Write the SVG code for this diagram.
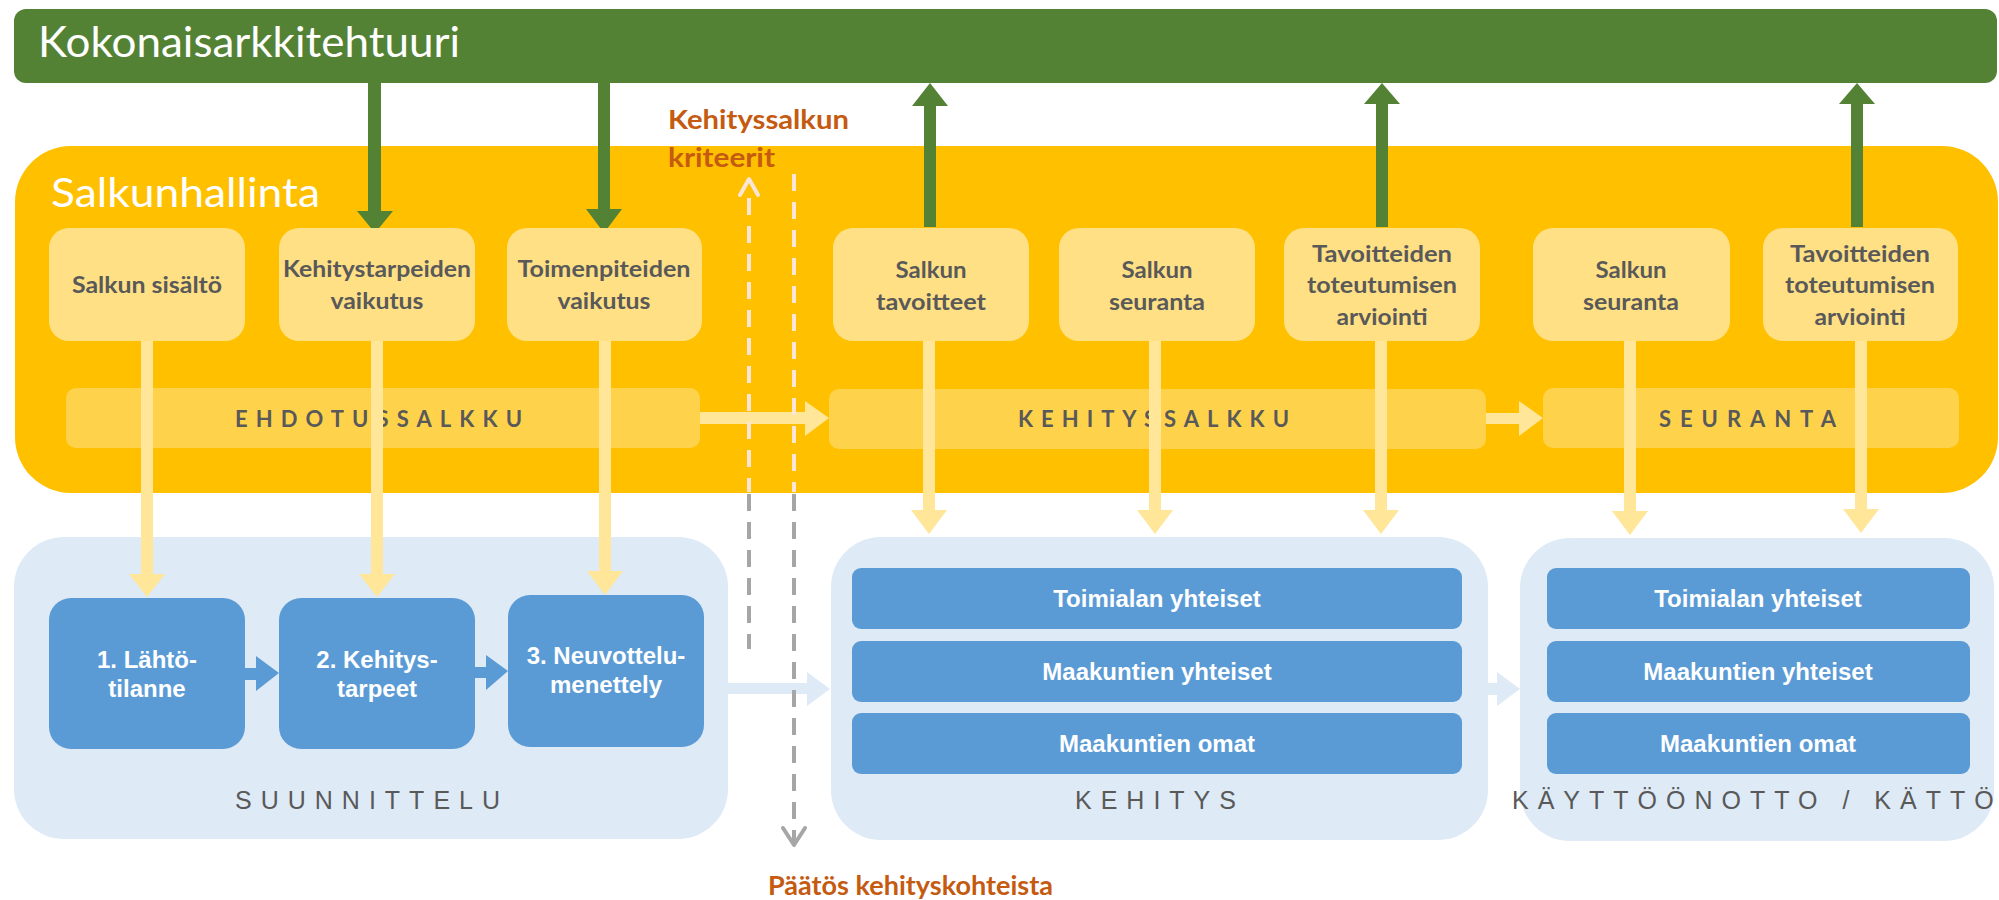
<svg xmlns="http://www.w3.org/2000/svg" width="1999" height="900" viewBox="0 0 1999 900">
<style>
.bg{fill:#FFFFFF}
.green{fill:#548235}
.gold{fill:#FFC000}
.band{fill:#FFD24C}
.ybox{fill:#FFE085}
.lblue{fill:#DEEAF6}
.blue{fill:#5B9BD5}
.yarrow{fill:#FFE699}
.garrow{fill:#548235}
.barrow{fill:#5B9BD5}
.larrow{fill:#DEEAF6}
.head{font-family:Lato,"Open Sans","Liberation Sans",sans-serif;fill:#FFFFFF;font-weight:400}
.ytxt{font-family:Lato,"Open Sans","Liberation Sans",sans-serif;font-weight:700;font-size:23px;fill:#595959;text-anchor:middle}
.btxt{font-family:"Liberation Sans",Arial,sans-serif;font-weight:700;font-size:24px;fill:#FFFFFF;text-anchor:middle}
.bandtxt{font-family:Lato,"Open Sans","Liberation Sans",sans-serif;font-weight:700;font-size:22px;fill:#595959}
.phase{font-family:"Liberation Sans",Arial,sans-serif;font-size:25px;fill:#595959;letter-spacing:9px}
.otxt{font-family:Lato,"Open Sans","Liberation Sans",sans-serif;font-weight:700;font-size:26px;fill:#C55A11}
.dpale{fill:none;stroke:#FBE5D6;stroke-width:4;stroke-dasharray:17 11}
.dgray{fill:none;stroke:#A6A6A6;stroke-width:4;stroke-dasharray:17 11}
.cpale{fill:none;stroke:#FBE5D6;stroke-width:4;stroke-linecap:round;stroke-linejoin:round}
.cgray{fill:none;stroke:#A6A6A6;stroke-width:4;stroke-linecap:round;stroke-linejoin:round}
</style>

<g id="kokonaisarkkitehtuuri">
<rect class="green" x="14" y="9" width="1983" height="74" rx="12"/>
<text class="head" x="38" y="57" font-size="42" textLength="422" lengthAdjust="spacingAndGlyphs">Kokonaisarkkitehtuuri</text>
</g>

<g id="salkunhallinta">
<rect class="gold" x="15" y="146" width="1983" height="347" rx="56"/>
<text class="head" x="51" y="207" font-size="41" textLength="269" lengthAdjust="spacingAndGlyphs">Salkunhallinta</text>
</g>

<g id="ehdotussalkku">
<rect class="band" x="66" y="388" width="634" height="60" rx="10"/>
<text class="bandtxt" x="235" y="427" textLength="287" lengthAdjust="spacing">EHDOTUSSALKKU</text>
</g>
<g id="kehityssalkku">
<rect class="band" x="829" y="389" width="657" height="60" rx="10"/>
<text class="bandtxt" x="1018" y="427" textLength="271" lengthAdjust="spacing">KEHITYSSALKKU</text>
</g>
<g id="seuranta">
<rect class="band" x="1543" y="388" width="416" height="60" rx="10"/>
<text class="bandtxt" x="1659" y="427" textLength="177" lengthAdjust="spacing">SEURANTA</text>
</g>

<g id="suunnittelu">
<rect class="lblue" x="14" y="537" width="714" height="302" rx="50"/>
<text class="phase" x="235" y="809">SUUNNITTELU</text>
</g>
<g id="kehitys">
<rect class="lblue" x="831" y="537" width="657" height="303" rx="50"/>
<text class="phase" x="1075" y="809">KEHITYS</text>
</g>
<g id="kayttoonotto">
<rect class="lblue" x="1520" y="538" width="474" height="303" rx="50"/>
<text class="phase" x="1512" y="809">KÄYTTÖÖNOTTO / KÄTTÖ</text>
</g>

<g id="connectors">
<polygon class="garrow" points="368,83 381,83 381,211 393,211 375,233 357,211 368,211"/>
<polygon class="garrow" points="598,83 610,83 610,209 622,209 604,233 586,209 598,209"/>
<polygon class="garrow" points="930,83 948,106 936,106 936,227 924,227 924,106 912,106"/>
<polygon class="garrow" points="1382,83 1400,104 1388,104 1388,227 1376,227 1376,104 1364,104"/>
<polygon class="garrow" points="1857,83 1875,104 1863,104 1863,227 1851,227 1851,104 1839,104"/>
<polygon class="yarrow" points="141,341 153,341 153,574 165,574 147,597 129,574 141,574"/>
<polygon class="yarrow" points="371,341 383,341 383,574 395,574 377,597 359,574 371,574"/>
<polygon class="yarrow" points="599,341 611,341 611,571 623,571 605,595 587,571 599,571"/>
<polygon class="yarrow" points="923,341 935,341 935,510 947,510 929,534 911,510 923,510"/>
<polygon class="yarrow" points="1149,341 1161,341 1161,510 1173,510 1155,534 1137,510 1149,510"/>
<polygon class="yarrow" points="1375,341 1387,341 1387,510 1399,510 1381,534 1363,510 1375,510"/>
<polygon class="yarrow" points="1624,341 1636,341 1636,511 1648,511 1630,535 1612,511 1624,511"/>
<polygon class="yarrow" points="1855,341 1867,341 1867,509 1879,509 1861,533 1843,509 1855,509"/>
<polygon class="yarrow" points="700,412 805,412 805,401 829,418 805,436 805,424 700,424"/>
<polygon class="yarrow" points="1486,413 1519,413 1519,401 1543,418 1519,436 1519,424 1486,424"/>
<polygon class="barrow" points="245,668 256,668 256,656 279,673 256,691 256,680 245,680"/>
<polygon class="barrow" points="475,667 486,667 486,655 508,671 486,690 486,678 475,678"/>
<polygon class="larrow" points="728,683 807,683 807,672 830,689 807,706 807,694 728,694"/>
<polygon class="larrow" points="1488,683 1497,683 1497,672 1520,689 1497,706 1497,695 1488,695"/>
<line class="dpale" x1="749" y1="198" x2="749" y2="492"/>
<line class="dgray" x1="749" y1="494" x2="749" y2="649"/>
<polyline class="cpale" points="740,195 749,179 758,195"/>
<line class="dpale" x1="794" y1="174" x2="794" y2="492"/>
<line class="dgray" x1="794" y1="494" x2="794" y2="842"/>
<polyline class="cgray" points="783,828 794,845 805,828"/>
</g>

<g id="kehityssalkun-kriteerit">
<text class="otxt" x="668" y="129" textLength="181" lengthAdjust="spacingAndGlyphs">Kehityssalkun</text>
<text class="otxt" x="668" y="167" textLength="107" lengthAdjust="spacingAndGlyphs">kriteerit</text>
</g>
<g id="paatos-kehityskohteista">
<text class="otxt" x="768" y="895" font-size="27" textLength="285" lengthAdjust="spacingAndGlyphs">Päätös kehityskohteista</text>
</g>

<g id="salkun-sisalto">
<rect class="ybox" x="49" y="228" width="196" height="113" rx="20"/>
<text class="ytxt" x="147" y="293" textLength="150" lengthAdjust="spacingAndGlyphs">Salkun sisältö</text>
</g>
<g id="kehitystarpeiden-vaikutus">
<rect class="ybox" x="279" y="228" width="196" height="113" rx="20"/>
<text class="ytxt" x="377" y="277" textLength="188" lengthAdjust="spacingAndGlyphs">Kehitystarpeiden</text>
<text class="ytxt" x="377" y="309" textLength="93" lengthAdjust="spacingAndGlyphs">vaikutus</text>
</g>
<g id="toimenpiteiden-vaikutus">
<rect class="ybox" x="507" y="228" width="195" height="113" rx="20"/>
<text class="ytxt" x="604" y="277" textLength="173" lengthAdjust="spacingAndGlyphs">Toimenpiteiden</text>
<text class="ytxt" x="604" y="309" textLength="93" lengthAdjust="spacingAndGlyphs">vaikutus</text>
</g>
<g id="salkun-tavoitteet">
<rect class="ybox" x="833" y="228" width="196" height="113" rx="20"/>
<text class="ytxt" x="931" y="278" textLength="71" lengthAdjust="spacingAndGlyphs">Salkun</text>
<text class="ytxt" x="931" y="310" textLength="110" lengthAdjust="spacingAndGlyphs">tavoitteet</text>
</g>
<g id="salkun-seuranta-1">
<rect class="ybox" x="1059" y="228" width="196" height="113" rx="20"/>
<text class="ytxt" x="1157" y="278" textLength="71" lengthAdjust="spacingAndGlyphs">Salkun</text>
<text class="ytxt" x="1157" y="310" textLength="96" lengthAdjust="spacingAndGlyphs">seuranta</text>
</g>
<g id="tavoitteiden-arviointi-1">
<rect class="ybox" x="1284" y="228" width="196" height="113" rx="20"/>
<text class="ytxt" x="1382" y="262" textLength="140" lengthAdjust="spacingAndGlyphs">Tavoitteiden</text>
<text class="ytxt" x="1382" y="293" textLength="150" lengthAdjust="spacingAndGlyphs">toteutumisen</text>
<text class="ytxt" x="1382" y="325" textLength="91" lengthAdjust="spacingAndGlyphs">arviointi</text>
</g>
<g id="salkun-seuranta-2">
<rect class="ybox" x="1533" y="228" width="197" height="113" rx="20"/>
<text class="ytxt" x="1631" y="278" textLength="71" lengthAdjust="spacingAndGlyphs">Salkun</text>
<text class="ytxt" x="1631" y="310" textLength="96" lengthAdjust="spacingAndGlyphs">seuranta</text>
</g>
<g id="tavoitteiden-arviointi-2">
<rect class="ybox" x="1763" y="228" width="195" height="113" rx="20"/>
<text class="ytxt" x="1860" y="262" textLength="140" lengthAdjust="spacingAndGlyphs">Tavoitteiden</text>
<text class="ytxt" x="1860" y="293" textLength="150" lengthAdjust="spacingAndGlyphs">toteutumisen</text>
<text class="ytxt" x="1860" y="325" textLength="91" lengthAdjust="spacingAndGlyphs">arviointi</text>
</g>

<g id="lahtotilanne">
<rect class="blue" x="49" y="598" width="196" height="151" rx="22"/>
<text class="btxt" x="147" y="668">1. Lähtö-</text>
<text class="btxt" x="147" y="697">tilanne</text>
</g>
<g id="kehitystarpeet">
<rect class="blue" x="279" y="598" width="196" height="151" rx="22"/>
<text class="btxt" x="377" y="668">2. Kehitys-</text>
<text class="btxt" x="377" y="697">tarpeet</text>
</g>
<g id="neuvottelumenettely">
<rect class="blue" x="508" y="595" width="196" height="152" rx="22"/>
<text class="btxt" x="606" y="664">3. Neuvottelu-</text>
<text class="btxt" x="606" y="693">menettely</text>
</g>

<g id="kehitys-toimialan-yhteiset">
<rect class="blue" x="852" y="568" width="610" height="61" rx="9"/>
<text class="btxt" x="1157" y="607">Toimialan yhteiset</text>
</g>
<g id="kehitys-maakuntien-yhteiset">
<rect class="blue" x="852" y="641" width="610" height="61" rx="9"/>
<text class="btxt" x="1157" y="680">Maakuntien yhteiset</text>
</g>
<g id="kehitys-maakuntien-omat">
<rect class="blue" x="852" y="713" width="610" height="61" rx="9"/>
<text class="btxt" x="1157" y="752">Maakuntien omat</text>
</g>

<g id="kaytto-toimialan-yhteiset">
<rect class="blue" x="1547" y="568" width="423" height="61" rx="9"/>
<text class="btxt" x="1758" y="607">Toimialan yhteiset</text>
</g>
<g id="kaytto-maakuntien-yhteiset">
<rect class="blue" x="1547" y="641" width="423" height="61" rx="9"/>
<text class="btxt" x="1758" y="680">Maakuntien yhteiset</text>
</g>
<g id="kaytto-maakuntien-omat">
<rect class="blue" x="1547" y="713" width="423" height="61" rx="9"/>
<text class="btxt" x="1758" y="752">Maakuntien omat</text>
</g>
</svg>
